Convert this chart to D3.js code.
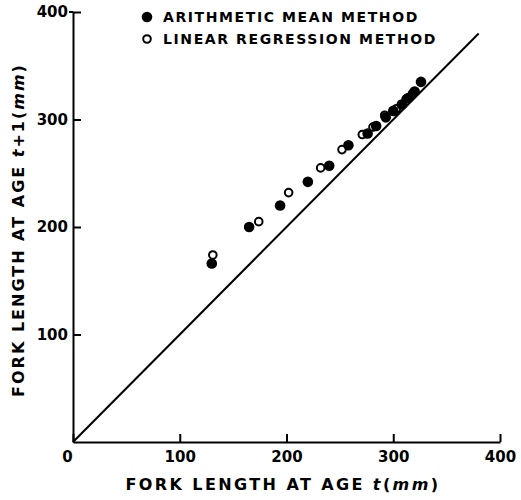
<!DOCTYPE html>
<html>
<head>
<meta charset="utf-8">
<script src="https://cdn.jsdelivr.net/npm/d3@7"></script>
<style>
  body { margin: 0; background: #fff; }
  text { font-family: "DejaVu Sans", sans-serif; font-weight: bold; fill: #000; }
</style>
</head>
<body>
<svg id="chart" width="521" height="500"></svg>
<script>
// Arithmetic mean method (filled)
const meanT  = [130, 165, 194, 220, 240, 258, 276, 284, 293, 300, 308, 314, 320, 326];
const meanT1 = [166, 200, 220, 242, 257, 276, 287, 294, 302, 308, 314, 320, 326, 335];
// Linear regression method (open)
const regT  = [131, 174, 202, 232, 252, 271, 281, 292, 303, 312, 318];
const regT1 = [174, 205, 232, 255, 272, 286, 293, 304, 310, 319, 324];
const ticks = [0, 100, 200, 300, 400];
const legendLabels = ["ARITHMETIC MEAN METHOD", "LINEAR REGRESSION METHOD"];

const svg = d3.select("#chart");
const margin = {left: 73, right: 21, top: 12, bottom: 58};
const width = 521 - margin.left - margin.right,
      height = 500 - margin.top - margin.bottom;

const g = svg.append("g").attr("transform", `translate(${margin.left}, ${margin.top})`);

const x = d3.scaleLinear().domain([0, 400]).range([0, width]);
const y = d3.scaleLinear().domain([0, 400]).range([height, 0]);

// X axis, ticks pointing inwards
const xAxis = g.append("g")
    .attr("transform", `translate(0, ${height})`)
    .call(d3.axisBottom(x).tickValues(ticks).tickSize(-8).tickSizeOuter(0).tickPadding(6));
xAxis.selectAll("text").style("font-size", "15px").attr("dy", "0.9em");
xAxis.select("text").attr("dx", "-6");

// Y axis
const yAxis = g.append("g")
    .call(d3.axisLeft(y).tickValues(ticks.slice(1)).tickSize(-8).tickSizeOuter(0).tickPadding(5));
yAxis.selectAll("text").style("font-size", "15px");

g.selectAll(".domain, .tick line").attr("stroke", "#000").attr("stroke-width", 2);

// Small leftward bit of the top tick
g.append("line")
    .attr("x1", -4).attr("x2", 0)
    .attr("y1", y(400)).attr("y2", y(400))
    .attr("stroke", "#000").attr("stroke-width", 2);

// 1:1 line
g.append("line")
    .attr("x1", x(0)).attr("y1", y(0))
    .attr("x2", x(380)).attr("y2", y(380))
    .attr("stroke", "#000").attr("stroke-width", 2);

// Points
g.selectAll(".reg")
    .data(d3.zip(regT, regT1))
    .enter().append("circle")
    .attr("cx", d => x(d[0])).attr("cy", d => y(d[1]))
    .attr("r", 3.8)
    .attr("fill", "#fff").attr("stroke", "#000").attr("stroke-width", 2);

g.selectAll(".mean")
    .data(d3.zip(meanT, meanT1))
    .enter().append("circle")
    .attr("cx", d => x(d[0])).attr("cy", d => y(d[1]))
    .attr("r", 5.3)
    .attr("fill", "#000");

// Legend
const legend = svg.append("g").attr("transform", "translate(147, 17)");
legendLabels.forEach((lab, i) => {
    const row = legend.append("g").attr("transform", `translate(0, ${i * 22})`);
    if (i === 0) row.append("circle").attr("r", 5.3).attr("fill", "#000");
    else row.append("circle").attr("r", 3.8).attr("fill", "#fff").attr("stroke", "#000").attr("stroke-width", 2);
    row.append("text")
        .attr("x", 16).attr("dy", "0.36em")
        .style("font-size", "14px").style("letter-spacing", "1.6px")
        .text(lab);
});

// Axis titles
const xt = svg.append("text")
    .attr("x", 283).attr("y", 490)
    .attr("text-anchor", "middle")
    .style("font-size", "16px").style("letter-spacing", "2.4px");
xt.append("tspan").text("FORK LENGTH AT AGE ");
xt.append("tspan").style("font-style", "italic").text("t");
xt.append("tspan").text("(");
xt.append("tspan").style("font-style", "italic").text("mm");
xt.append("tspan").text(")");

const yt = svg.append("text")
    .attr("transform", "translate(24, 230) rotate(-90)")
    .attr("text-anchor", "middle")
    .style("font-size", "16px").style("letter-spacing", "2px");
yt.append("tspan").text("FORK LENGTH AT AGE ");
yt.append("tspan").style("font-style", "italic").text("t");
yt.append("tspan").text("+1(");
yt.append("tspan").style("font-style", "italic").text("mm");
yt.append("tspan").text(")");
</script>
</body>
</html>
